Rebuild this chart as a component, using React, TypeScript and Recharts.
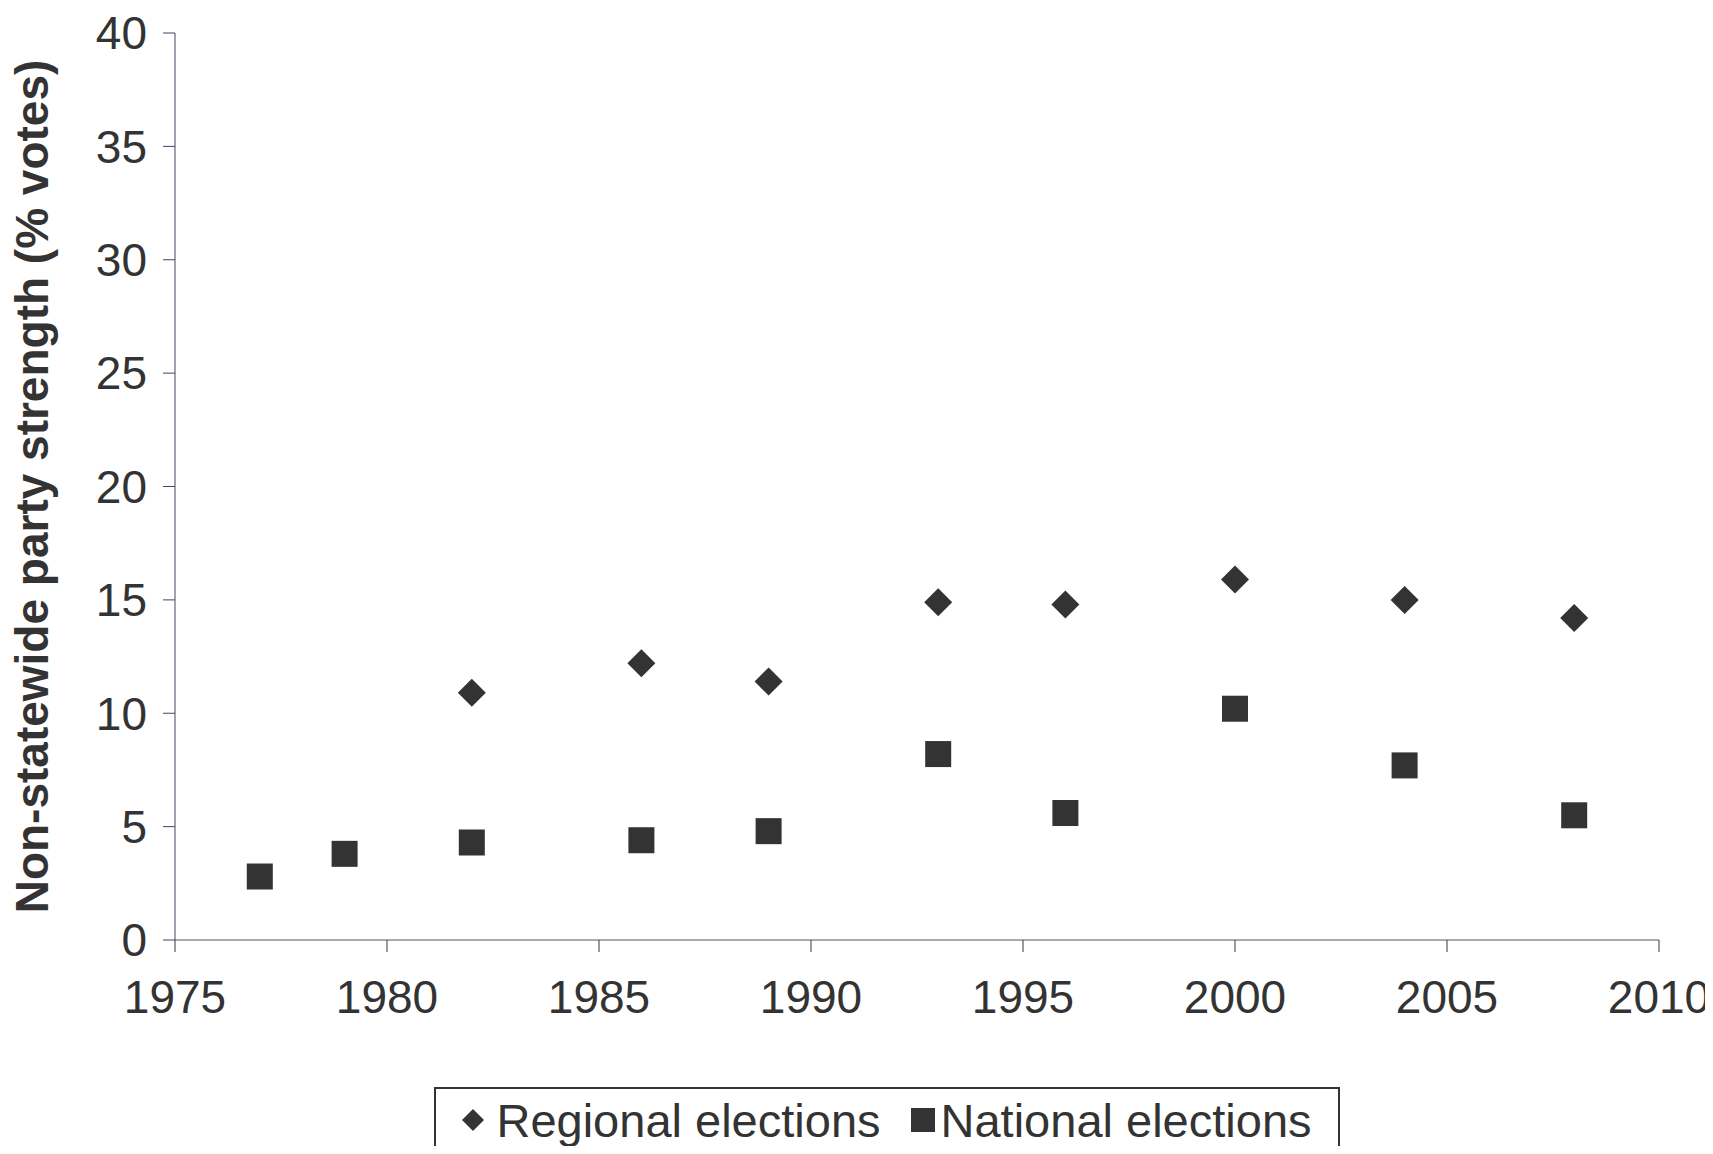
import React from 'react';
import { ScatterChart, Scatter, XAxis, YAxis } from 'recharts';

const regionalYears = [1982, 1986, 1989, 1993, 1996, 2000, 2004, 2008];
const regionalValues = [10.9, 12.2, 11.4, 14.9, 14.8, 15.9, 15.0, 14.2];
const nationalYears = [1977, 1979, 1982, 1986, 1989, 1993, 1996, 2000, 2004, 2008];
const nationalValues = [2.8, 3.8, 4.3, 4.4, 4.8, 8.2, 5.6, 10.2, 7.7, 5.5];
const xTicks = [1975, 1980, 1985, 1990, 1995, 2000, 2005, 2010];
const yTicks = [0, 5, 10, 15, 20, 25, 30, 35, 40];

const regional = regionalYears.map((x, i) => ({ x, y: regionalValues[i] }));
const national = nationalYears.map((x, i) => ({ x, y: nationalValues[i] }));

const INK = '#333';
const FONT = '"Liberation Sans", Arial, sans-serif';

const Diamond = (props: any) => {
  const { cx, cy } = props;
  const r = 14;
  return <path d={`M${cx},${cy - r}L${cx + r},${cy}L${cx},${cy + r}L${cx - r},${cy}Z`} fill={INK} />;
};

const Square = (props: any) => {
  const { cx, cy } = props;
  const s = 13;
  return <rect x={cx - s} y={cy - s} width={2 * s} height={2 * s} fill={INK} />;
};

export default function App() {
  return (
    <div style={{ margin: -8, position: 'relative', width: 1713, height: 1154, background: '#fff', fontFamily: FONT }}>
      <ScatterChart width={1713} height={1154} margin={{ top: 33, right: 54, left: 95, bottom: 0 }} style={{ overflow: 'visible' }}>
        <XAxis
          type="number"
          dataKey="x"
          domain={[1975, 2010]}
          ticks={xTicks}
          height={214}
          stroke="#555"
          tickSize={12}
          tick={{ fill: INK, fontSize: 46, fontFamily: FONT, dy: 26 }}
          tickLine={{ stroke: '#335' }}
        />
        <YAxis
          type="number"
          dataKey="y"
          domain={[0, 40]}
          ticks={yTicks}
          width={80}
          stroke="#446"
          tickSize={12}
          tick={{ fill: INK, fontSize: 46, fontFamily: FONT, dx: -14 }}
          label={{
            value: 'Non-statewide party strength (% votes)',
            angle: -90,
            position: 'insideLeft',
            dx: -68,
            dy: 0,
            style: { textAnchor: 'middle', fill: INK, fontSize: 46, fontWeight: 'bold', fontFamily: FONT },
          }}
        />
        <Scatter data={regional} shape={<Diamond />} isAnimationActive={false} />
        <Scatter data={national} shape={<Square />} isAnimationActive={false} />
      </ScatterChart>
      <div
        style={{
          position: 'absolute', left: 434, top: 1087, width: 906, height: 66, boxSizing: 'border-box',
          border: '2px solid #333', display: 'flex', alignItems: 'center', justifyContent: 'center',
          gap: 30, fontSize: 47, color: INK,
        }}
      >
        <span style={{ display: 'flex', alignItems: 'center', gap: 12 }}>
          <svg width={22} height={22}><path d="M11,0L22,11L11,22L0,11Z" fill={INK} /></svg>
          Regional elections
        </span>
        <span style={{ display: 'flex', alignItems: 'center', gap: 6 }}>
          <svg width={24} height={24}><rect width={24} height={24} fill={INK} /></svg>
          National elections
        </span>
      </div>
    </div>
  );
}
